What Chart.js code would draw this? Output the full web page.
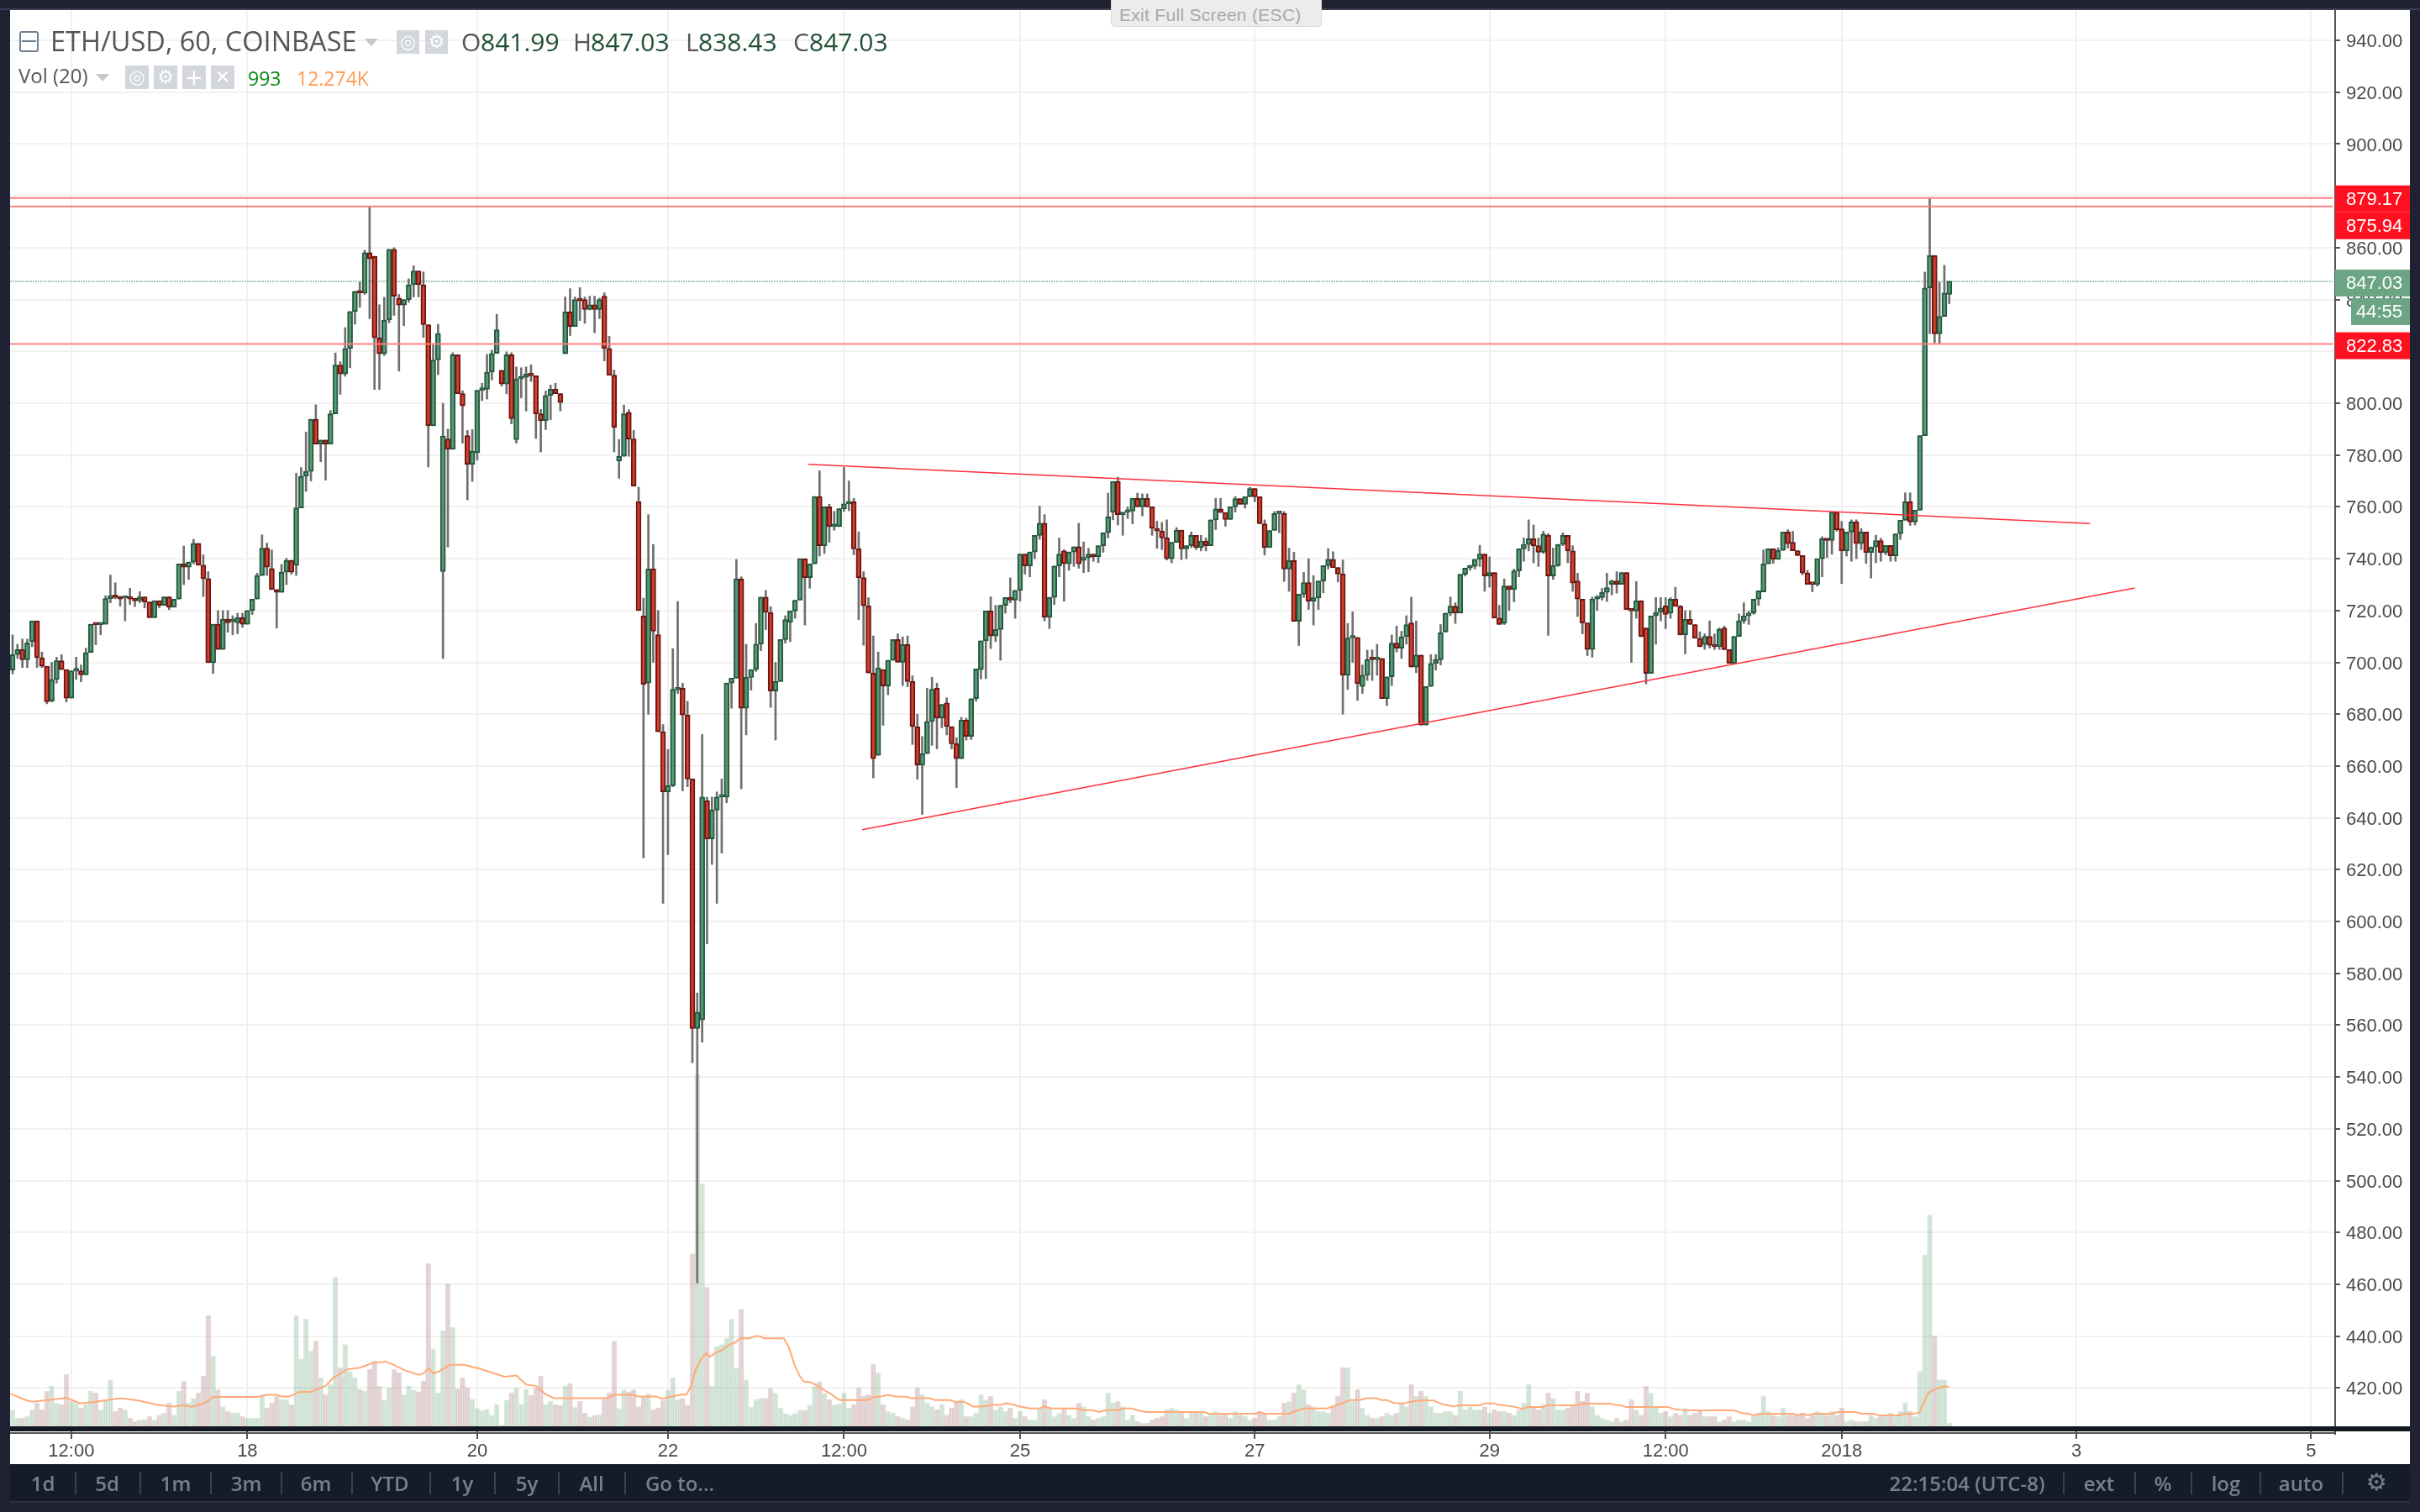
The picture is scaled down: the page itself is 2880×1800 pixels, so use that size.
<!DOCTYPE html>
<html>
<head>
<meta charset="utf-8">
<title>ETH/USD, 60, COINBASE</title>
<script src="https://cdn.jsdelivr.net/npm/chart.js@4/dist/chart.umd.min.js"></script>
<style>
html, body { margin: 0; padding: 0; width: 2880px; height: 1800px; overflow: hidden; background: #1e2233; }
canvas { position: absolute; left: 0; top: 0; }
.t { position: absolute; white-space: nowrap; line-height: 1; }
.hd { font-family: "Open Sans", sans-serif; color: #555; }
.val { font-family: "Open Sans", sans-serif; color: #1f4f33; }
.ico { position: absolute; background: #d3d6da; color: #fff; text-align: center; font-family: "DejaVu Sans", sans-serif; }
.tb { position: absolute; font-family: "Open Sans", sans-serif; font-weight: 600; font-size: 24px; color: #75808f; line-height: 1; top: 1754px; transform: translateX(-50%); white-space: nowrap; }
.sep { position: absolute; top: 1752px; height: 27px; width: 2px; background: #3a4152; }
.tri { position: absolute; width: 0; height: 0; border-left: 8px solid transparent; border-right: 8px solid transparent; border-top: 9px solid #c4c7cc; }
</style>
</head>
<body>
<canvas id="chart" width="2880" height="1800"></canvas>

<div style="position:absolute;left:1322px;top:0;width:251px;height:32px;background:#ececec;border:1px solid #d8d8d8;border-top:none;border-radius:0 0 5px 5px;box-sizing:border-box"></div>
<div class="t" style="left:1332px;top:6px;font:21px 'Liberation Sans',sans-serif;letter-spacing:0.3px;color:#a8a8a8">Exit Full Screen (ESC)</div>

<div style="position:absolute;left:23px;top:37px;width:23px;height:25px;border:2px solid #6d7f92;border-radius:3px;box-sizing:border-box"></div>
<div style="position:absolute;left:26px;top:48px;width:17px;height:2px;background:#6d7f92"></div>
<div class="t hd" style="left:60px;top:33px;font-size:32.5px">ETH/USD, 60, COINBASE</div>
<div class="tri" style="left:434px;top:46px"></div>
<div class="ico" style="left:472px;top:36px;width:27px;height:28px;font-size:22px;line-height:28px">◎</div>
<div class="ico" style="left:506px;top:36px;width:27px;height:28px;font-size:22px;line-height:28px">⚙</div>
<div class="t hd" style="left:549px;top:35px;font-size:30px">O</div>
<div class="t val" style="left:572px;top:35px;font-size:30px">841.99</div>
<div class="t hd" style="left:682px;top:35px;font-size:30px">H</div>
<div class="t val" style="left:703px;top:35px;font-size:30px">847.03</div>
<div class="t hd" style="left:816px;top:35px;font-size:30px">L</div>
<div class="t val" style="left:831px;top:35px;font-size:30px">838.43</div>
<div class="t hd" style="left:944px;top:35px;font-size:30px">C</div>
<div class="t val" style="left:963px;top:35px;font-size:30px">847.03</div>

<div class="t hd" style="left:22px;top:78px;font-size:24px">Vol (20)</div>
<div class="tri" style="left:114px;top:88px"></div>
<div class="ico" style="left:149px;top:78px;width:28px;height:28px;font-size:22px;line-height:28px">◎</div>
<div class="ico" style="left:183px;top:78px;width:28px;height:28px;font-size:22px;line-height:28px">⚙</div>
<div class="ico" style="left:217px;top:78px;width:28px;height:28px;font-size:26px;line-height:28px">+</div>
<div class="ico" style="left:251px;top:78px;width:28px;height:28px;font-size:22px;line-height:28px">✕</div>
<div class="t" style="left:295px;top:77px;font:23px 'Open Sans',sans-serif;color:#0a8a12">993</div>
<div class="t" style="left:353px;top:77px;font:23px 'Open Sans',sans-serif;color:#ff9a50">12.274K</div>

<div id="toolbar"></div>

<script>
// price, in candle order (one candle per hour)
const opens = [
  697,703,705,701,708,716,701.8,698.5,685,693.4,
  700.6,697.2,686.2,696.7,696.7,695.2,703.8,714.7,714.5,714.7,
  724.6,725.7,725,724.8,725,724.4,723.8,725.3,723.3,717.2,
  723.8,722,725.3,721.3,724.4,738,736.7,738.7,745.9,737.5,
  732.3,699.9,714.7,705,716.7,715.7,715.3,717.2,714.7,720,
  724.4,733.5,744.1,736.2,728.1,727,734.8,739.4,737.5,759.6,
  771.8,773.7,793.8,784.2,785.8,784.2,795.9,814.7,811.3,821.1,
  835.4,843.2,842.5,858.1,856.7,825.2,819.1,832.1,859.4,840.6,
  837.9,840,845.7,851,845.7,830.3,791.3,816.7,735,786.2,
  782.2,818.7,803.7,787.5,776.4,780.8,805,805.4,812,819.2,
  812.7,807.4,818.7,785.9,809.4,810,811.3,810.6,795.9,793.2,
  803,805.4,803.7,819.1,835.2,829.6,840,840,836.2,838,
  836.2,841.3,821.1,810.8,777.7,779.5,796.5,786.2,762,717.9,
  692,736,710.7,673.2,650,652.4,689.4,690,679.7,655,
  558.7,562,646.6,631.9,643,648,648,692,693.9,732.2,
  682.3,694.2,697.2,707,725.2,719.3,688.9,692.6,708.8,715.4,
  719.8,724,740,732.7,738,764,745,760,752.4,752.4,
  759.3,761.2,762,743.8,732.7,721.8,695.9,664.1,697.2,690.9,
  700.8,708.8,700,706.9,692.6,675.2,660.3,664.8,677.2,690,
  678.5,684.3,675.2,668.6,662.8,677.7,671.4,686,697.2,708.3,
  719.8,710.2,712.7,722,725,724,727.8,741.8,737.2,742.6,
  749,753.7,717.4,725.1,737.2,743,738,742.6,744.6,739.3,
  740.5,741.8,740.8,745,750,757.9,769.8,757,757.9,758.4,
  763.3,760,763.3,760,751.7,750.7,748,740,746.3,751,
  743.8,745,749,744.3,746.8,745,755,759.2,757.8,755.1,
  760,763.2,761,763.9,767.1,763.9,753.5,744.3,750.9,757.4,
  757.4,736,739.3,715.8,726.3,730.8,723.6,724.9,731.4,737.3,
  739.8,736.6,734.1,695,709.4,709.6,690.7,695,701.2,701,
  701.5,686,694.4,707.4,705.5,709.9,715.2,698.2,702.8,675.8,
  690.7,699.6,701,711.7,719,721.7,719,734,736.4,737.1,
  739.8,741.8,733.3,734.7,717.1,715,729.5,728.1,735.3,743.8,
  745.5,747.7,745,742.5,749,733.3,737.3,745.5,749,743,
  731.4,724.4,715.2,705,724.4,725,727,730.1,731.4,730.1,
  734.7,720.4,719.8,723.8,713.3,695.7,717.9,719.3,721.8,719,
  724.4,721.7,710.6,716.6,714.6,709.3,706.9,710,706.6,706,
  713.3,704.9,699.6,710,716,717.9,719.1,724.4,727.2,738,
  743.8,739.7,743.2,750.3,746.3,743.1,741.2,734.5,730.3,730,
  740,747.7,747,758,751.5,743,750.3,754.2,745.8,750.3,
  742.3,744.5,747,742.3,745.1,741.1,749.6,754.8,762,754.2,
  758.7,787.5,844.5,857,826.8,833.5,841.99
];
const highs = [
  710.6,707,709,709,716,716,704,698.5,700,702,
  703,697.2,696.7,702,699,705.5,714.7,714.7,714.7,725.7,
  733.7,730.7,725.5,725,728.6,724.4,727.3,725.3,723.3,723.8,
  723.8,725.3,725.3,724.4,738,744.9,738.7,747.5,745.9,741.5,
  735,714.7,720,720,720,718,719,719,720,724.4,
  734.4,749.2,746,743.4,728.1,737.8,740.2,739.4,773,775.2,
  788.9,793.8,799.4,785.8,785.8,797.2,819.4,816,829.2,835.4,
  843.2,846.7,859,876,856.7,838,840.9,859.4,860,842,
  840,848,853,851,850.7,830.3,822.5,830.5,800,790,
  819.5,818.7,804.8,789.5,789.8,805,807.7,818.8,820.5,834.3,
  812.7,819.8,819.5,814,813.7,814,814.8,810.6,797.6,804.7,
  807,807.7,803.7,841,844.2,841,844.6,841,841.3,841.3,
  840.6,842.6,825.8,812.8,786,799.3,797.5,789.5,767.6,724.8,
  757,745.5,720,676,666.4,705.3,723.5,692,685,655,
  572.4,672.2,648,648,650,655,692,693.9,739.7,733,
  707,697.2,715,725.2,727.8,721.5,700,708.8,718,719.8,
  724,740,740,738,764,773.9,760,761,758.3,759.3,
  775.2,770,763.3,750.4,735,725,710.2,704,697.2,700.8,
  708.8,711,709.8,710.2,694.8,680,671.4,690,694.2,692,
  683.8,686.3,675.2,671,678.8,678.5,686,697.5,708.3,719.8,
  725.3,722,722,725,732.6,727.8,741.8,741.8,742.6,749,
  760.3,757,725.1,737.2,748,743.5,742.6,744.6,753.7,746.5,
  744,741.8,745,750,765.3,769.8,771.4,757.9,760,763.3,
  765.3,765,765,760,754.5,754,755,746.3,752,751,
  745,750.3,749,749,748,755,763.3,763.3,757.8,760,
  764,763.2,763.9,767.6,767.1,763.9,755,750.9,758.2,758.2,
  758.2,744.1,742.5,726.3,734.7,740,733.5,731.4,737.3,743.9,
  742.7,736.6,739.5,715,719.5,709.6,699,704.7,704.8,707,
  701.5,694.4,710.6,714,712,718,725.2,716,702.8,690.7,
  703,703,714.6,719,725.2,723,734,736.4,737.5,739.8,
  745.2,741.8,740.7,734.7,722,732.2,729.5,736,743.8,748,
  755,753,748,750.6,749.7,744.1,745.5,750,749,745,
  734.4,724.4,715.2,725.2,725.8,728.5,734.4,731.8,735,734.7,
  734.7,720.4,731.2,723.8,713.3,717.9,725,725,725,725,
  729,722,720,720,714.6,711.8,711,716,711,713.3,
  714,704.9,710,718.7,723,719.8,724.4,727.6,743.4,743.8,
  743.8,744.2,750.3,751.2,750.6,743.1,741.2,735.5,730.3,740,
  748.5,747.7,758,758,754.4,750.3,755,755,751.6,750.3,
  744.5,749.1,747.9,745.1,745.1,749.6,754.8,765.4,765.4,758.7,
  787.5,850.6,879.17,857,846.7,853.2,847.03
];
const lows = [
  695.5,701.5,698,698,706,698,698,684,684.8,692,
  697.2,684.7,686.2,693.4,692.5,695.2,703.8,706.8,710.6,714.7,
  723,724.5,721.7,716,722.3,721.5,723,721,717.2,717.2,
  721,722,720.3,721.3,724.4,730,732,738,737.5,725.4,
  699.9,695.7,705,705,711.6,710.6,711,713.5,714.7,718.5,
  724.4,733.5,733.5,728.1,713.2,727,730,734,733.5,759.6,
  766,770,784.2,777.4,770.3,784.2,795.9,803.4,810.4,813.7,
  830.5,837,842,832.6,805.3,805.3,818.4,831,833.9,812.4,
  829.9,839,841,841,825.4,775.4,791.3,811,701.5,744.5,
  782.2,803.7,784.6,762.7,769.8,778,801,801.6,809,819.2,
  806.6,803.6,792,784.6,802,797,808.4,786.4,781.2,789.8,
  793.6,803.7,797,819.1,826.1,829.6,831.9,830.8,836,827.2,
  832.6,816.3,810.8,781.2,771,779.5,779.5,768,720,624.5,
  680,700,673.2,607,625.8,652,688,650.4,652,545.5,
  460.5,553.4,591.4,622,607,626.4,645.8,682.3,693.9,651.2,
  672,689.3,696.5,704.5,712.6,682.6,670,692.6,707.4,708,
  717,724,714.4,728.6,738,741,742,746.3,751,752.4,
  758.2,758.5,741.5,716.5,706.6,695.9,655.4,664.1,675.7,687.5,
  700.8,700,691,690.6,668.3,654.9,641.3,664.8,668,666.6,
  674.7,672,666.6,651.7,662.8,670,670.2,685,693.6,693.7,
  705.3,708,700.8,719,723,717,723.6,734,733,740,
  747.5,716,713,722.3,733,723.6,735.5,737,736.3,734.6,
  735,739,738.5,742.5,748,755,753,749,755.5,753.5,
  760,756.5,760,749,744,743.5,739.5,738.4,746.3,739.6,
  740,744.3,743.5,743,743,745,751.2,757.8,752.5,755.1,
  758,761,759.5,763.9,762,753.5,741.4,744.3,750.9,750,
  731.2,727.4,715.8,706.5,725,720.4,714.4,720.4,726.8,736,
  736.6,731,680,689.5,700,685.3,688,693,693,695,
  686,683.3,691,704,701.5,707,698.2,696,675.8,675.8,
  690.7,697,699,711.7,718,715,719,733.3,735.5,736,
  737,727.4,729,717.1,714.6,714.6,720,723.4,733,739,
  743,738.4,737,742,710.4,732,737,745,738.4,727.4,
  717.7,711,702.6,702,720,724,723.5,726,726.7,730.1,
  720.4,700,717,709.9,691.7,695.7,707,716,713,717,
  721.7,710.6,703.3,714.6,709.3,706,705,705.5,704.9,705,
  704.9,699.6,699.6,710,715,714.6,718.5,722,727.2,738,
  738.2,739.7,743.2,744.1,743.1,741.2,733.8,730.1,727.2,729.4,
  733,740.4,741.7,750.6,730.4,741,739,740,743.5,738.2,
  732.5,738.4,739,741.5,739,739,747.4,754.8,752.8,753,
  758.7,787.5,826.8,823.3,823,833.5,838.43
];
const closes = [
  703,704.9,701,707.5,716,701.8,698.5,684.8,693.4,700.6,
  697.2,686.2,696.7,696.8,695.2,703.8,714.7,714.5,714.7,724.6,
  725.7,725,724.4,725,724.4,723.7,725.3,723.3,717.2,723.8,
  722,725.3,721.3,724.4,738,736.7,738.7,745.9,737.5,732.3,
  699.9,714.7,705,716.7,715.3,716,717.2,714.7,720,724.4,
  733.5,744.1,736.7,728.1,727,734.8,739.4,734.8,759.6,771.8,
  773.7,793.8,784.2,785.8,784.2,795.9,814.7,811.3,821.1,835.4,
  843.2,842.5,858.1,855.7,825.2,819.1,832.1,859.4,841.3,837.9,
  840,845.7,851,845.7,830.3,791.3,816.7,826.9,787.3,782.2,
  818.7,803.7,799,776.4,781.5,805,805.4,812,819.2,828.3,
  807.4,818.7,794,809.4,810,811.3,810.6,795.9,793.2,803,
  805.4,803.7,800.3,835.2,829.6,840,839.5,836.2,838,836.2,
  840,821.1,810.8,790.6,779.5,795.9,786.2,768,720,691.5,
  736,712,673.2,650,652.4,689.6,690,679.7,655,558.7,
  565,648,631.9,643,648,648.9,692,693.9,732.2,682.3,
  694.2,697.2,707,725.2,719.3,688.9,692.6,708.8,716.5,719.8,
  724,740,732.7,738,764,745,760,752.4,752.5,759.3,
  761.2,762,743.8,732.7,721.8,695.9,662.8,697.9,690.9,700.8,
  708.8,700,706.9,692.6,675.2,660.3,664.8,677.2,689.6,678.5,
  683.8,675.2,668.6,662.8,677.7,671.4,686,697.5,708.3,719.8,
  710.2,712.7,722,725,724,727.8,741.8,737.2,742.6,749,
  753.7,717.4,725.1,737.2,741.8,738,742.6,744.6,738,740.5,
  741.8,740.8,745,750,756.2,769.8,757,757.9,758.4,763.3,
  760,763.3,760,751.7,750.7,748,740,746.3,751,743.8,
  745,749,744.3,746.8,745,755,759.2,757.8,755.1,760,
  763.2,761,763.9,767.1,763.9,753.5,744.3,750.9,757.4,757.5,
  736,739.3,715.8,726.3,730.8,723.6,724.9,731.4,737.3,739.8,
  736.6,734.1,695,709.4,710,691.8,695,701,701,701.5,
  686,694.4,707.4,705.5,709.9,714.6,698.2,702.8,675.8,690.7,
  699.6,701,711.4,719,721.7,719,734,736.4,737.1,739.8,
  741.8,733.3,734.7,717.1,714.6,729.5,728.1,735.3,743.8,745.5,
  747.7,745,742.5,749.5,733.3,737.3,745.5,749,743,730.6,
  724.4,715.2,705,724.4,725,727,728.8,731.4,730.1,734.7,
  720.4,719.8,723.8,709.9,695.7,717.9,719.3,721,718.5,724.4,
  721.7,710.6,716.6,714.6,709.3,706,710,706.6,706,712.8,
  704.9,699.6,710,716,717.9,719,724.4,727.6,738,743.8,
  739.7,743.2,750.3,745.8,743.1,741.2,734.5,730.1,730.1,740,
  747.7,747,758,751.2,743,750.3,754.2,745.8,750.3,742.3,
  744.5,747,742.3,745.1,741.1,749.6,754.8,762,754.2,758.7,
  787.5,844.5,857,826.8,833.5,842.5,847.03
];
// volume in thousands
const volumes = [
  5.1,2.5,2.5,3,5.1,7.2,5.1,10.8,12.4,7.2,
  6.7,16,7.7,7.2,5.6,6.7,10.8,10.3,5.1,8.2,
  14.4,4.6,5.6,5.1,2.5,1.5,2,2,3,2,
  3.5,4.1,7.2,3.5,10.8,13.9,7.2,8.7,10.3,15.5,
  34.2,21.7,11.3,6.1,4.6,4.1,4.1,3,2.5,2.5,
  2.5,9.3,5.6,7.2,9.3,8.2,8.2,6.7,34.2,20.7,
  33.1,23.3,26.4,15,9.8,12.9,46.1,18.1,25.3,17,
  15,11.3,10.8,17.6,20.2,12.3,8.1,11.9,17.6,16.5,
  9.7,12.5,11.2,10.7,14,50.3,23.9,10.3,29.6,44,
  30.6,11.6,15,11.9,8.4,5.5,4.9,5.3,3.4,6.7,
  0.3,8.1,10.3,11.9,6.8,11.4,9.6,11.9,15.5,6.7,
  7.7,6.7,6.4,12.5,13.3,5.8,7.7,4.1,2.9,3.4,
  3.6,8.4,10.3,26.3,5.5,11.3,10.7,11.3,6.1,9,
  10.1,5.1,5.6,8,11.2,15,8.2,8.7,6.6,53.3,
  108.8,75,42.9,12.4,24.7,25.3,27.3,33.1,18,36.2,
  14.4,6,8.2,8.7,8.7,11.8,10.2,5.6,4,3.5,
  4,5,5,6.6,12.4,13.8,10.2,8.2,6.6,7,
  10.3,5.7,6.7,11.9,9.3,9.8,19.1,16.5,6.7,4.6,
  4.1,3,2.5,2,6.1,11.9,9.8,7.2,6.1,5.1,
  6.7,3.5,5.6,7.7,8.2,3,3,4.1,9.8,8.2,
  9.3,5.1,6.1,4.6,5.6,2.5,4.6,3,2,2,
  5.6,8.2,5.6,3,4.1,5.6,3.5,2.5,7.2,6.1,
  3,2,2.5,3,10.3,7.2,7.7,6.1,2,3.5,
  1.5,1,1,2,2.5,3,5.1,5.6,5.1,4.6,
  2.5,4.1,4.6,4.1,3,4.1,4.6,3.5,4.1,2.5,
  4.6,3.5,3,2,2.5,4.6,4.1,2,2,3,
  7.2,7.7,10.3,12.9,11.3,6.7,6.1,4.6,4.6,4.1,
  6.1,9.3,18.1,18.1,7.7,11.3,5.6,3.5,2.5,2.5,
  3,4.1,3.5,4.1,7.2,6.1,12.9,9.3,10.8,9.3,
  6.1,4.1,4.1,4.6,4.6,3.5,10.8,5.1,6.1,5.1,
  5.1,6.1,4.1,5.1,4.6,4.6,4.1,3.5,5.1,7.2,
  12.9,6.1,5.1,6.7,10.3,8.7,5.1,5.1,5.6,6.7,
  10.8,7.7,10.3,6.1,3.5,2.5,2,1.5,2.5,1.5,
  2,8.2,5.1,3.5,12.4,10.3,6.1,4.1,4.6,3,
  4.1,3.5,5.6,3.5,4.1,5.1,3,3,3,1.5,
  2,3,1.5,2,2,1.5,3,4.1,9.3,4.6,
  3.5,3,5.6,3.5,3.5,3.5,4.1,2.5,3.5,4.6,
  4.1,3.5,4.6,3.5,5.6,1.5,2,1.5,1.5,1.5,
  3.5,2.5,3,3,4.1,3,4.6,7.2,4.6,3,
  17,52.9,65.3,27.9,14.4,14.4,0.993
];
// Vol MA(20), bar position and value
const maPos = [-0.5,2.7,4,7.3,11,13.8,17,22,25.7,29.6,33,35,36.6,39.5,41,50,52,54,55,56.6,58.5,61,64,65.5,68.4,71,73.6,76.3,77.8,80,83,84,85,86,87,89.4,92.3,95.3,100.6,103,105,107,109,110.7,121.6,122.9,126.9,127.8,131.5,132.8,136.7,137.8,138.7,139.7,140.9,141.8,142.6,143.7,144.9,146.6,147.7,148.8,150.6,152,152.9,153.6,157.7,158.7,159.9,160.9,161.8,162.9,164.3,165.8,167.5,168.9,169.2,174.8,176.3,177.8,179,180.6,183,183.7,187.5,188.6,191.6,192.7,194.6,196.4,198.3,200.5,202,203.1,204.3,206,208,209.9,211,212.5,217.7,218.8,221,222,223.6,225.9,227,228.9,230,231.8,243.7,244.6,254.2,254.9,256,260.9,263.9,268.8,269.9,271.7,273.6,275.4,276.9,278.8,279.9,281,282.5,284.4,285.6,287.9,290.5,292,294.6,295.7,300.1,300.9,302.8,303.9,305,307.2,308.7,309.8,312.8,313.8,319.5,321,326.6,327.7,328.8,329.9,338.5,339.6,341.9,352,353.8,355,356,357.5,364.2,365,366,367.2,368.3,372,373.2,376.9,378,380.6,381.7,385.8,386.9,388.8,389.9,391.7,392.9,394.8,396];
const maVal = [10.1,8.1,7.6,8.1,8.8,7.1,7.6,8.7,8,6.6,6.1,6.5,6,7.3,9.1,9.1,9.7,9.7,9.2,9.2,10.6,10.7,12.5,14.9,17.6,18.1,19.5,20,19.1,17.4,15.9,16.3,17.9,16.4,16.8,19,19,17.9,15.3,15.7,12.9,12.5,9.9,8.7,8.7,9.7,9.7,9.2,9.2,8.6,9.8,9.8,12.4,17.6,21,22.6,21.5,22.7,23.4,25.2,25.8,27.2,27.2,27.9,27.8,27.2,27.2,24.5,18.9,15.7,13.8,13.7,12.8,11.3,9.8,8.3,8.1,8.1,9.1,9.3,9.7,9.2,9.1,8.7,8.7,8.1,8.1,7.6,7.6,6.1,6.1,6.6,6.6,7.1,6.8,6.1,5.5,5.5,6.1,5.5,5.5,5,5,4.4,5,5,5.5,5.5,5,4.4,4.4,3.9,3.9,4.4,3.9,3.9,5.5,5.5,6.1,7.1,8.1,8.1,8.7,8.7,8.1,8.1,7.2,7.1,7.5,8,8,7,6.1,6.5,6.5,7.1,7.1,6.6,6.5,6,5.4,6,6,6.5,6.5,7,7,6.6,6.5,6,6,5.4,4.9,4.9,4,3.9,3.4,3.9,3.9,3.4,3.9,3.4,3.9,3.9,4.4,4.4,3.9,3.9,3.4,3.4,3.9,3.9,4.3,10.3,11.3,12.3,12.274];

// axes
const priceTicks = [420,440,460,480,500,520,540,560,580,600,620,640,660,680,700,720,740,760,780,800,820,840,860,880,900,920,940];
const timeTickPos = [12,48,95,134,170,206,254,302,338,374,422,470];
const timeTickText = ['12:00','18','20','22','12:00','25','27','29','12:00','2018','3','5'];

// drawn levels and trend lines
const levels = [879.17,875.94,822.83];
const lastPrice = 847.03;
const upperTrendPos = [162.7,424.8];
const upperTrendVal = [776.4,753.6];
const lowerTrendPos = [173.7,433.9];
const lowerTrendVal = [635.4,728.7];

const X_MIN = -0.515, X_MAX = 474.9;
const candleIdx = opens.map((_, i) => i);
const isUp = candleIdx.map(i => closes[i] >= opens[i]);

const bg = {
    id: 'bg',
    beforeDraw(chart) {
        const { ctx, chartArea: a } = chart;
        ctx.save();
        ctx.fillStyle = '#1e2233';
        ctx.fillRect(0, 0, 2880, 1800);
        ctx.fillStyle = '#3a3f52';
        ctx.fillRect(0, 10, 2880, 2);
        ctx.fillStyle = '#fff';
        ctx.fillRect(a.left, 12, 2868 - a.left, 1743 - 12);
        ctx.restore();
    },
    afterDraw(chart) {
        const { ctx, chartArea: a, scales } = chart;
        const y = scales.y;
        ctx.save();
        // band between the panes and time axis line
        ctx.fillStyle = '#131722';
        ctx.fillRect(a.left, a.bottom, 2868 - a.left, 6);
        ctx.fillStyle = '#555';
        ctx.fillRect(a.left, 1705, a.right - a.left, 2);
        ctx.fillRect(a.right - 1, 1704, 2, 4);
        // toolbar
        ctx.fillStyle = '#161b2a';
        ctx.fillRect(12, 1743, 2856, 45);
        ctx.fillStyle = '#2b3042';
        ctx.fillRect(12, 1787, 2856, 2);

        // price badges
        ctx.font = '22px "Liberation Sans", sans-serif';
        ctx.textBaseline = 'middle';
        ctx.textAlign = 'left';
        const badge = (top, h, left, color, text, tx) => {
            ctx.fillStyle = color;
            ctx.fillRect(left, top, 2868 - left, h);
            ctx.fillStyle = '#fff';
            ctx.fillText(text, tx, top + h / 2 + 1);
        };
        const p879 = y.getPixelForValue(levels[0]);
        const p822 = y.getPixelForValue(levels[2]);
        const pLast = y.getPixelForValue(lastPrice);
        badge(p879 - 15, 32, a.right, '#ff1020', levels[0].toFixed(2), 2792);
        badge(p879 + 17, 32, a.right, '#ff1020', levels[1].toFixed(2), 2792);
        badge(pLast - 14, 32, a.right, '#6ba583', lastPrice.toFixed(2), 2792);
        badge(pLast + 20, 32, 2798, '#6ba583', '44:55', 2804);
        badge(p822 - 14, 32, a.right, '#ff1020', levels[2].toFixed(2), 2792);
        ctx.restore();
    }
};

const levelSet = levels.map(v => ({
    type: 'line',
    data: [{ x: X_MIN, y: v }, { x: X_MAX - 0.5, y: v }],
    borderColor: '#ff7f7f',
    borderWidth: 2,
    pointRadius: 0,
    order: 1
}));

new Chart(document.getElementById('chart').getContext('2d'), {
    type: 'bar',
    data: {
        datasets: [
            ...levelSet,
            {
                type: 'line',
                data: [{ x: X_MIN, y: lastPrice }, { x: X_MAX - 0.5, y: lastPrice }],
                borderColor: '#a6cdb6',
                borderWidth: 2,
                borderDash: [2, 1],
                pointRadius: 0,
                order: 6
            },
            {
                type: 'line',
                data: upperTrendPos.map((x, i) => ({ x, y: upperTrendVal[i] })),
                borderColor: '#ff3040',
                borderWidth: 1.5,
                pointRadius: 0,
                order: 1
            },
            {
                type: 'line',
                data: lowerTrendPos.map((x, i) => ({ x, y: lowerTrendVal[i] })),
                borderColor: '#ff3040',
                borderWidth: 1.5,
                pointRadius: 0,
                order: 1
            },
            // candle bodies
            {
                data: candleIdx.map(i => ({ x: i, y: [opens[i], closes[i]] })),
                backgroundColor: isUp.map(u => u ? '#5b9a78' : '#d2422f'),
                borderColor: isUp.map(u => u ? '#235a3e' : '#6e1512'),
                borderWidth: 2,
                borderSkipped: false,
                barThickness: 6,
                minBarLength: 3,
                order: 2
            },
            // wicks
            {
                data: candleIdx.map(i => ({ x: i, y: [lows[i], highs[i]] })),
                backgroundColor: '#6f6f6f',
                barThickness: 2,
                order: 3
            },
            // Vol MA
            {
                type: 'line',
                yAxisID: 'yV',
                data: maPos.map((x, i) => ({ x, y: maVal[i] })),
                borderColor: '#ffab78',
                borderWidth: 2,
                pointRadius: 0,
                order: 4
            },
            // volume
            {
                yAxisID: 'yV',
                data: candleIdx.map(i => ({ x: i, y: volumes[i] })),
                backgroundColor: isUp.map(u => u ? 'rgba(107,170,120,0.24)' : 'rgba(160,90,95,0.18)'),
                borderColor: isUp.map(u => u ? 'rgba(90,150,105,0.22)' : 'rgba(140,80,85,0.22)'),
                borderWidth: 2,
                barThickness: 5.8,
                order: 5
            }
        ]
    },
    plugins: [bg],
    options: {
        responsive: false,
        animation: false,
        devicePixelRatio: 1,
        layout: { padding: { left: 12, top: 12, right: 0, bottom: 0 } },
        plugins: { legend: { display: false }, tooltip: { enabled: false } },
        datasets: { bar: { grouped: false } },
        scales: {
            x: {
                type: 'linear',
                offset: false,
                min: X_MIN,
                max: X_MAX,
                afterBuildTicks: s => { s.ticks = timeTickPos.map(value => ({ value })); },
                afterFit: s => { s.height = 102; s.paddingLeft = 0; s.paddingRight = 0; },
                grid: { offset: false, color: '#f1f1f1', lineWidth: 2, tickColor: '#555', tickLength: 15, tickWidth: 2 },
                border: { display: false },
                ticks: {
                    autoSkip: false,
                    maxRotation: 0,
                    padding: 2,
                    color: '#4a4a4a',
                    font: { family: '"Liberation Sans", sans-serif', size: 22 },
                    callback: v => timeTickText[timeTickPos.indexOf(v)]
                }
            },
            y: {
                position: 'right',
                min: 405.2,
                max: 951.7,
                afterBuildTicks: s => { s.ticks = priceTicks.map(value => ({ value })); },
                afterFit: s => { s.width = 101; s.paddingTop = 0; s.paddingBottom = 0; },
                grid: { color: '#f1f1f1', lineWidth: 2, tickColor: '#555', tickLength: 6, tickWidth: 2 },
                border: { color: '#555', width: 2 },
                ticks: {
                    padding: 7,
                    labelOffset: 2,
                    color: '#4a4a4a',
                    font: { family: '"Liberation Sans", sans-serif', size: 22 },
                    callback: v => v.toFixed(2)
                }
            },
            yV: { display: false, min: 0, max: 437.5 }
        }
    }
});

// bottom toolbar, text stays as plain text
const tbItems = [['1d',51],['5d',127.5],['1m',209],['3m',293],['6m',376],['YTD',464],['1y',550],['5y',627],['All',704],['Go to...',809],
    ['22:15:04 (UTC-8)',2341],['ext',2498],['%',2574],['log',2649],['auto',2738.5],['⚙',2828]];
const tbSeps = [88.6,166,250,333.5,418,511,588,664,743,2455,2540,2606.6,2688.6,2787];
const tb = document.getElementById('toolbar');
tbItems.forEach(([txt, x]) => {
    const d = document.createElement('div');
    d.className = 'tb';
    d.style.left = x + 'px';
    d.textContent = txt;
    if (txt === '⚙') { d.style.fontFamily = '"DejaVu Sans"'; d.style.fontSize = '28px'; d.style.top = '1751px'; }
    tb.appendChild(d);
});
tbSeps.forEach(x => {
    const d = document.createElement('div');
    d.className = 'sep';
    d.style.left = x + 'px';
    tb.appendChild(d);
});
</script>
</body>
</html>
